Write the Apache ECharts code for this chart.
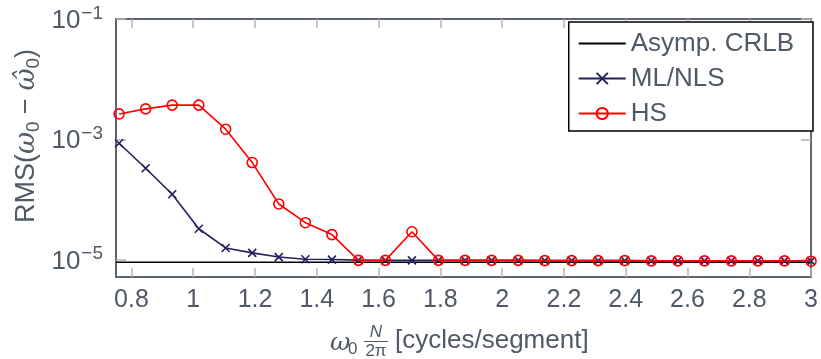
<!DOCTYPE html>
<html>
<head>
<meta charset="utf-8">
<script src="https://cdn.jsdelivr.net/npm/echarts@6/dist/echarts.min.js"></script>
<style>
  html, body { margin: 0; padding: 0; background: #fff; }
  #chart { width: 821px; height: 359px; }
</style>
</head>
<body>
<div id="chart"></div>
<script>
// Normalised frequency  omega0 * N / (2*pi)  [cycles/segment]
const freq = [0.76, 0.846, 0.932, 1.018, 1.105, 1.191, 1.277, 1.363, 1.449,
              1.535, 1.622, 1.708, 1.794, 1.88, 1.966, 2.052, 2.138, 2.225,
              2.311, 2.397, 2.483, 2.569, 2.655, 2.742, 2.828, 2.914, 3.0];

// RMS frequency error of the ML/NLS estimator
const mlNls = [8.6e-4, 3.3e-4, 1.22e-4, 3.25e-5, 1.56e-5, 1.29e-5, 1.1e-5, 1.01e-5, 1.0e-5,
               9.8e-6, 9.7e-6, 9.7e-6, 9.7e-6, 9.7e-6, 9.7e-6, 9.7e-6, 9.6e-6, 9.6e-6,
               9.6e-6, 9.6e-6, 9.5e-6, 9.5e-6, 9.5e-6, 9.5e-6, 9.5e-6, 9.5e-6, 9.4e-6];

// RMS frequency error of the harmonic summation (HS) estimator
const hs = [2.64e-3, 3.2e-3, 3.7e-3, 3.7e-3, 1.47e-3, 4.1e-4, 8.4e-5, 4.1e-5, 2.6e-5,
            9.7e-6, 9.7e-6, 2.9e-5, 9.7e-6, 9.7e-6, 9.7e-6, 9.7e-6, 9.6e-6, 9.6e-6,
            9.6e-6, 9.6e-6, 9.5e-6, 9.5e-6, 9.5e-6, 9.5e-6, 9.5e-6, 9.5e-6, 9.4e-6];

// Asymptotic Cramér-Rao lower bound (independent of omega0)
const crlbX = [0.75, 3.0];
const crlb = [9.0e-6, 9.0e-6];

// Tick positions
const xTicks = [0.8, 1, 1.2, 1.4, 1.6, 1.8, 2, 2.2, 2.4, 2.6, 2.8, 3];
const yTicks = [1e-5, 1e-3, 1e-1];

const textColor = '#505a66';
const frameColor = '#5e6770';
const tickColor = '#b4b4b4';
const font = '"Liberation Sans", Arial, Helvetica, sans-serif';

const pairs = (xs, ys) => xs.map((x, i) => [x, ys[i]]);

const chart = echarts.init(document.getElementById('chart'), null, { renderer: 'canvas' });

const xAxisBase = {
  type: 'value', min: 0.75, max: 3,
  axisLine: { show: false },
  splitLine: { show: false },
  axisTick: { show: true, inside: true, length: 9, customValues: xTicks,
              lineStyle: { color: tickColor, width: 1.5 } }
};
const yAxisBase = {
  type: 'log', logBase: 10, min: Math.pow(10, -5.29), max: 0.1,
  axisLine: { show: false },
  splitLine: { show: false },
  minorTick: { show: false },
  axisTick: { show: true, inside: true, length: 10, customValues: yTicks,
              lineStyle: { color: tickColor, width: 1.5 } }
};

chart.setOption({
  animation: false,
  backgroundColor: '#fff',
  textStyle: { fontFamily: font },
  grid: { left: 116, right: 8, top: 19, bottom: 82, show: true,
          borderColor: frameColor, borderWidth: 2, backgroundColor: 'transparent' },
  xAxis: [
    Object.assign({}, xAxisBase, {
      position: 'bottom',
      axisLabel: { show: true, customValues: xTicks, margin: 11, fontSize: 25,
                   color: textColor, fontFamily: font }
    }),
    Object.assign({}, xAxisBase, { position: 'top', axisLabel: { show: false } })
  ],
  yAxis: [
    Object.assign({}, yAxisBase, {
      position: 'left',
      axisLabel: {
        show: true, customValues: yTicks, margin: 13, color: textColor,
        formatter: v => '{b|10}{s|−' + Math.round(-Math.log10(v)) + '}',
        rich: {
          b: { fontSize: 26, lineHeight: 30, color: textColor, fontFamily: font, verticalAlign: 'bottom' },
          s: { fontSize: 19, lineHeight: 19, color: textColor, fontFamily: font, verticalAlign: 'top', padding: [0, 0, 0, 1] }
        }
      }
    }),
    Object.assign({}, yAxisBase, { position: 'right', axisLabel: { show: false } })
  ],
  legend: {
    orient: 'vertical', right: 8, top: 22,
    data: [{ name: 'Asymp. CRLB', itemStyle: { opacity: 0 } }, 'ML/NLS', 'HS'],
    backgroundColor: '#fff', borderColor: '#000', borderWidth: 1.5, borderRadius: 0,
    padding: [7, 19, 3, 9],
    itemWidth: 47, itemHeight: 14, itemGap: 6,
    textStyle: { fontSize: 26, lineHeight: 29, color: textColor, fontFamily: font }
  },
  series: [
    {
      name: 'Asymp. CRLB', type: 'line', data: pairs(crlbX, crlb),
      showSymbol: false, symbol: 'none', clip: false,
      lineStyle: { color: '#000', width: 1.6 }, itemStyle: { color: '#000' }, z: 2
    },
    {
      name: 'ML/NLS', type: 'line', data: pairs(freq, mlNls),
      symbol: 'path://M0,0L10,10M10,0L0,10', symbolSize: 8, showSymbol: true, clip: false,
      lineStyle: { color: '#24205e', width: 1.6 },
      itemStyle: { color: 'rgba(0,0,0,0)', borderColor: '#24205e', borderWidth: 1.6 }, z: 3
    },
    {
      name: 'HS', type: 'line', data: pairs(freq, hs),
      symbol: 'circle', symbolSize: 10, showSymbol: true, clip: false,
      lineStyle: { color: '#ff0000', width: 1.6 },
      itemStyle: { color: 'rgba(0,0,0,0)', borderColor: '#ff0000', borderWidth: 1.6 }, z: 4
    }
  ],
  graphic: [
    // vertical axis title: RMS(ω0 − ω̂0)
    {
      type: 'text', x: 24, y: 136, rotation: Math.PI / 2,
      style: {
        text: '{t|RMS(}{w|ω}{s|0}{t| − }{w|ω̂}{s|0}{t|)}',
        align: 'center', verticalAlign: 'middle',
        rich: {
          t: { fontSize: 27, lineHeight: 32, fill: textColor, fontFamily: font, verticalAlign: 'bottom' },
          w: { fontSize: 27, lineHeight: 32, fill: textColor, fontFamily: '"DejaVu Serif", serif', fontStyle: 'italic', verticalAlign: 'bottom' },
          s: { fontSize: 19, lineHeight: 19, fill: textColor, fontFamily: font, verticalAlign: 'bottom', padding: [0, 0, -3, 0] }
        }
      }
    },
    // horizontal axis title: ω0 N/2π [cycles/segment]
    {
      type: 'group', x: 0, y: 0,
      children: [
        { type: 'text', x: 330, y: 343, style: { text: 'ω', fontSize: 25, fontStyle: 'italic', fontFamily: '"DejaVu Serif", serif', fill: textColor, verticalAlign: 'middle' } },
        { type: 'text', x: 348, y: 349, style: { text: '0', fontSize: 17, fontFamily: font, fill: textColor, verticalAlign: 'middle' } },
        { type: 'text', x: 376, y: 332, style: { text: 'N', fontSize: 17, fontStyle: 'italic', fontFamily: font, fill: textColor, align: 'center', verticalAlign: 'middle' } },
        { type: 'line', shape: { x1: 364, y1: 341.5, x2: 388, y2: 341.5 }, style: { stroke: textColor, lineWidth: 1 } },
        { type: 'text', x: 376, y: 351, style: { text: '2π', fontSize: 17, fontFamily: font, fill: textColor, align: 'center', verticalAlign: 'middle' } },
        { type: 'text', x: 395, y: 341, style: { text: '[cycles/segment]', fontSize: 26, fontFamily: font, fill: textColor, verticalAlign: 'middle' } }
      ]
    }
  ]
});
</script>
</body>
</html>
